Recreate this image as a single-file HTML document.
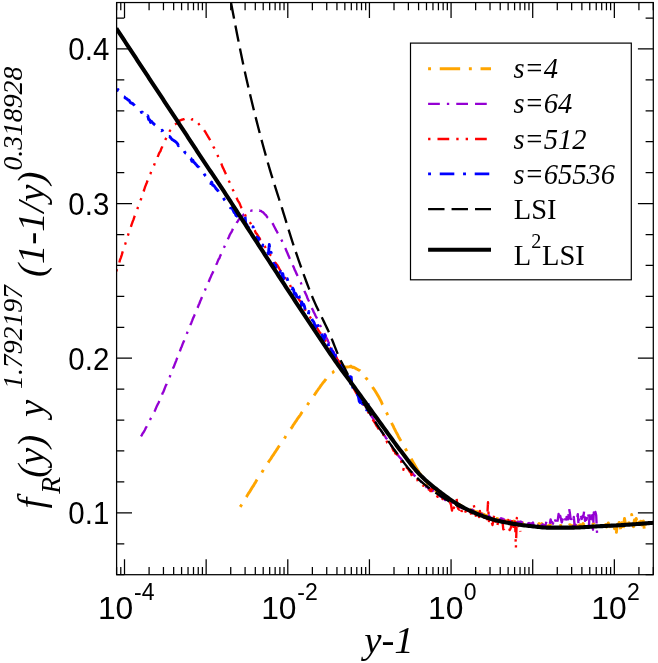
<!DOCTYPE html>
<html><head><meta charset="utf-8"><title>plot</title>
<style>html,body{margin:0;padding:0;background:#fff;}body{width:658px;height:663px;overflow:hidden;font-family:"Liberation Sans",sans-serif;}svg{display:block;will-change:transform;}</style></head>
<body>
<svg width="658" height="663" viewBox="0 0 658 663">
<rect width="658" height="663" fill="#fff"/>
<defs><clipPath id="cp"><rect x="116.6" y="2.55" width="536.7" height="572.15"/></clipPath></defs>
<g clip-path="url(#cp)" fill="none" stroke-linejoin="round">
<path d="M240.2 506.9L241.1 505.48L242 503.92L242.9 502.37L243.8 500.98L244.7 499.44L245.6 498.15L246.5 496.89L247.4 495.17L248.3 493.71L249.2 492.43L250.1 491.08L251 489.51L251.9 487.92L252.8 486.63L253.7 485.31L254.6 483.59L255.5 482.3L256.4 480.67L257.3 479.35L258.2 477.86L259.1 476.69L260 475.13L260.9 473.96L261.8 472.55L262.7 471.1L263.6 469.36L264.5 468.26L265.4 466.95L266.3 465.59L267.2 463.96L268.1 462.74L269 461.29L269.9 459.94L270.8 458.84L271.7 457.19L272.6 455.93L273.5 454.72L274.4 453.13L275.3 451.84L276.2 450.52L277.1 449.15L278 447.61L278.9 446.45L279.8 445.29L280.7 443.51L281.6 442.53L282.5 441.07L283.4 439.62L284.3 438.67L285.2 437.15L286.1 435.52L287 434.38L287.9 433.29L288.8 431.68L289.7 430.48L290.6 429.04L291.5 428.03L292.4 426.62L293.3 424.98L294.2 423.79L295.1 422.38L296 421.15L296.9 419.64L297.8 418.42L298.7 417.16L299.6 416.02L300.5 414.75L301.4 413.08L302.3 411.87L303.2 410.8L304.1 409.13L305 407.96L305.9 406.89L306.8 405.83L307.7 404.49L308.6 403.09L309.5 401.83L310.4 400.59L311.3 399.6L312.2 398.06L313.1 396.81L314 395.62L314.9 394.25L315.8 392.92L316.7 391.46L317.6 390.31L318.5 388.93L319.4 387.87L320.3 386.52L321.2 385.16L322.1 384.05L323 382.72L323.9 381.79L324.8 380.55L325.7 379.6L326.6 378.28L327.5 377.5L328.4 375.68L329.3 375.17L330.2 374.5L331.1 373.53L332 372.93L332.9 372.46L333.8 371.34L334.7 370.77L335.6 370.29L336.5 369.73L337.4 369.06L338.3 368.53L339.2 368.19L340.1 367.76L341 367.22L341.9 367.16L342.8 367.1L343.7 366.89L344.6 367.13L345.5 366.85L346.4 367.1L347.3 366.96L348.2 366.93L349.1 366.82L350 366.88L350.9 366.03L351.8 366.88L352.7 367.42L353.6 367.21L354.5 368L355.4 368.01L356.3 368.82L357.2 369.04L358.1 369.77L359 370.18L359.9 370.54L360.8 371.73L361.7 372.67L362.6 373.47L363.5 374.47L364.4 375.74L365.3 376.83L366.2 378.36L367.1 379.33L368 380.58L368.9 381.67L369.8 382.73L370.7 384.08L371.6 385.75L372.5 386.86L373.4 388.39L374.3 389.64L375.2 390.95L376.1 392.47L377 393.93L377.9 395.55L378.8 397.09L379.7 398.68L380.6 400.35L381.5 402.22L382.4 404.42L383.3 405.93L384.2 407.74L385.1 409.82L386 411.85L386.9 413.27L387.8 415.27L388.7 417.01L389.6 418.66L390.5 420.87L391.4 422.59L392.3 424.45L393.2 425.93L394.1 428.15L395 429.8L395.9 431.59L396.8 433.24L397.7 434.93L398.6 436.99L399.5 438.35L400.4 440.09L401.3 441.63L402.2 443.15L403.1 444.7L404 446.43L404.9 447.84L405.8 449.41L406.7 450.99L407.6 452.73L408.5 454.22L409.4 455.75L410.3 457L411.2 458.61L412.1 460.53L413 462.09L413.9 463.48L414.8 465.14L415.7 466.73L416.6 468.29L417.5 469.85L418.4 471.24L419.3 473.1L420.2 473.81L421.1 475.93L422 477.25L422.9 478.62L423.8 480.58L424.7 481.15L425.6 481.87L426.5 482.85L427.4 484.22L428.3 484.87L429.2 485.89L430.1 486.82L431 486.7L431.9 487.81L432.8 488.81L433.7 489.41L434.6 490L435.5 490.67L436.4 491.14L437.3 491.65L438.2 492.45L439.1 492.63L440 493.4L440.9 494.31L441.8 494.8L442.7 495.57L443.6 495.81L444.5 496.42L445.4 496.92L446.3 497.49L447.2 498.19L448.1 498.58L449 499.39L449.9 499.8L450.8 500.56L451.7 500.13L452.6 501.37L453.5 501.7L454.4 502.17L455.3 502.4L456.2 502.98L457.1 503.59L458 503.88L458.9 504.31L459.8 504.65L460.7 505.26L461.6 505.48L462.5 505.55L463.4 506.18L464.3 506.39L465.2 506.61L466.1 507.42L467 508.1L467.9 508.3L468.8 508.5L469.7 508.91L470.6 509.6L471.5 509.82L472.4 510.17L473.3 510.51L474.2 510.88L475.1 511.58L476 511.65L476.9 511.95L477.8 511.78L478.7 512.67L479.6 512.83L480.5 513.43L481.4 513.42L482.3 513.88L483.2 514.27L484.1 514.39L485 515.17L485.9 515.44L486.8 515.32L487.7 515.95L488.6 516.19L489.5 516.03L490.4 516.74L491.3 516.97L492.2 517.26L493.1 517.35L494 517.73L494.9 517.99L495.8 518.79L496.7 518.54L497.6 518.71L498.5 519.16L499.4 518.89L500.3 519.15L501.2 518.63L502.1 520.52L503 520.4L503.9 520.56L504.8 520.62L505.7 520.51L506.6 520.74L507.5 520.42L508.4 520.86L509.3 521.15L510.2 522.04L511.1 521.71L512 521.55L512.9 521.44L513.8 520.92L514.7 522.82L515.6 522.41L516.5 522.33L517.4 522.25L518.3 522L519.2 522.65L520.1 523.25L521 522.74L521.9 522.94L522.8 523.06L523.7 523.34L524.6 522.6L525.5 523.38L526.4 523.18L527.3 524.15L528.2 523.42L529.1 524.19L530 524.76L530.9 523.94L531.8 523.9L532.7 524.4L533.6 524.41L534.5 524.02L535.4 525.31L536.3 527.75L537.2 524.7L538.1 524.83L539 523.47L539.9 525.29L540.8 524.59L541.7 523.64L542.6 526.01L543.5 524.99L544.4 526.03L545.3 526.3L546.2 525.7L547.1 525.87L548 526.58L548.9 525.5L549.8 525.3L550.7 524.92L551.6 525.62L552.5 526.34L553.4 526.08L554.3 525.13L555.2 525.17L556.1 525.35L557 525.75L557.9 525.5L558.8 525.71L559.7 525.75L560.6 525.45L561.5 525.58L562.4 525.7L563.3 525.56L564.2 525.85L565.1 526.54L566 526.49L566.9 525.63L567.8 524.76L568.7 525.79L569.6 524.63L570.5 524.9L571.4 526.03L572.3 525.95L573.2 525.52L574.1 524.73L575 525.38L575.9 525.2L576.8 525.83L577.7 526.61L578.6 525.77L579.5 525.01L580.4 524.77L581.3 525.28L582.2 525.17L583.1 523.48L584 525.21L584.9 524.52L585.8 525.59L586.7 525.51L587.6 525.46L588.5 524.62L589.4 525.05L590.3 524.67L591.2 524.1L592.1 524.45L593 523.92L593.9 523.79L594.8 524.86L595.7 524.32L596.6 524.48L597.5 524.83L598.4 523.42L599.3 523.85L600.2 526.46L601.1 526.35L602 525.92L602.9 526.58L603.8 526.13L604.7 525.37L605.6 524.54L606.5 527.1L607.4 526.09L608.3 522.96L609.2 526.44L610.1 526.02L611 527.69L611.9 525.06L612.8 525.44L613.7 524.13L614.6 528.84L615.5 525.21L616.4 532.29L617.3 524.37L618.2 525.56L619.1 522.5L620 524.55L620.9 530.38L621.8 522.79L622.7 531.17L623.6 525.65L624.5 518.55L625.4 523.81L626.3 523.81L627.2 524.42L628.1 523.45L629 522.67L629.9 523.82L630.8 521.94L631.7 514.53L632.6 524.24L633.5 526.68L634.4 520.03L635.3 524.18L636.2 518.48L637.1 521.16L638 526.55L638.9 522.31L639.8 528.56L640.7 521.27L641.6 524.97L642.5 521.36L643.4 521L644.3 529.63L645.2 522.88L646.1 525.54" stroke="#ffa500" stroke-width="2.91" stroke-dasharray="2.91 8.74 20.4 8.74"/>
<path d="M141 436.4L141.8 435.11L142.6 433.49L143.4 432.51L144.2 431.24L145 429.79L145.8 427.89L146.6 426.62L147.4 425.08L148.2 423.57L149 422.17L149.8 420.4L150.6 418.77L151.4 417.32L152.2 415.69L153 414.43L153.8 412.65L154.6 411.2L155.4 409.48L156.2 407.61L157 405.76L157.8 404.16L158.6 402.69L159.4 400.87L160.2 398.87L161 397.24L161.8 395.25L162.6 393.2L163.4 391.94L164.2 389.78L165 387.63L165.8 385.55L166.6 384.2L167.4 382.15L168.2 380.32L169 379.02L169.8 376.87L170.6 374.44L171.4 373.05L172.2 370.59L173 368.29L173.8 366.85L174.6 364.63L175.4 362.58L176.2 360.6L177 358.43L177.8 356.87L178.6 355.03L179.4 352.69L180.2 350.33L181 348.04L181.8 346.47L182.6 344.14L183.4 342.27L184.2 340.45L185 338.24L185.8 336.34L186.6 334.3L187.4 332.26L188.2 330.79L189 328.43L189.8 326.77L190.6 324.49L191.4 322.67L192.2 320.65L193 318.37L193.8 316.91L194.6 314.82L195.4 313.18L196.2 311.22L197 308.81L197.8 307.31L198.6 305.12L199.4 303.48L200.2 301.27L201 299.49L201.8 297.51L202.6 295.72L203.4 293.92L204.2 291.95L205 290.21L205.8 288.2L206.6 286.38L207.4 284.39L208.2 282.69L209 281.13L209.8 278.98L210.6 277.3L211.4 275.33L212.2 273.77L213 272.13L213.8 270.24L214.6 268.33L215.4 266.73L216.2 264.76L217 263.16L217.8 261.11L218.6 259.32L219.4 258.28L220.2 255.98L221 254.39L221.8 252.45L222.6 250.96L223.4 248.65L224.2 247.13L225 245.48L225.8 244.05L226.6 242.1L227.4 239.98L228.2 238.41L229 236.76L229.8 234.73L230.6 233.36L231.4 232.13L232.2 230.51L233 228.58L233.8 227.08L234.6 225.98L235.4 224.58L236.2 223.94L237 222.16L237.8 221.17L238.6 219.87L239.4 218.76L240.2 217.97L241 217.26L241.8 216.66L242.6 216.13L243.4 214.75L244.2 214.27L245 213.95L245.8 213.02L246.6 212.37L247.4 212.18L248.2 211.69L249 211.23L249.8 210.87L250.6 210.87L251.4 210.67L252.2 210.53L253 210.54L253.8 210.18L254.6 210.35L255.4 210.41L256.2 210.47L257 210.67L257.8 210.42L258.6 210.63L259.4 210.43L260.2 210.92L261 210.92L261.8 211.72L262.6 212.02L263.4 212.69L264.2 213.51L265 214.49L265.8 214.93L266.6 216.23L267.4 217.36L268.2 218.01L269 218.69L269.8 220.09L270.6 220.73L271.4 222.03L272.2 222.76L273 224.09L273.8 225.68L274.6 227.19L275.4 228.77L276.2 230.38L277 231.71L277.8 233.29L278.6 234.58L279.4 235.85L280.2 237.6L281 239.08L281.8 240.62L282.6 242.33L283.4 244.33L284.2 245.71L285 247.58L285.8 249.28L286.6 251.36L287.4 253.06L288.2 254.94L289 256.72L289.8 258.9L290.6 260.31L291.4 262.23L292.2 263.9L293 265.82L293.8 267.4L294.6 269.74L295.4 271.04L296.2 273.08L297 274.58L297.8 276.5L298.6 278.31L299.4 280.21L300.2 281.59L301 282.99L301.8 285.83L302.6 287.09L303.4 288.87L304.2 290.49L305 292.35L305.8 293.92L306.6 295.7L307.4 298L308.2 299.74L309 301.22L309.8 303.15L310.6 304.9L311.4 306.59L312.2 308.82L313 310.25L313.8 312.42L314.6 313.6L315.4 315.51L316.2 316.97L317 318.36L317.8 320.63L318.6 321.76L319.4 323.74L320.2 325.49L321 326.8L321.8 328.57L322.6 329.9L323.4 331.56L324.2 333.51L325 334.56L325.8 336.36L326.6 338.11L327.4 339.5L328.2 341.44L329 342.97L329.8 344.84L330.6 345.97L331.4 347.74L332.2 349.28L333 351.1L333.8 352.45L334.6 353.96L335.4 355.71L336.2 356.98L337 359.23L337.8 360.72L338.6 361.09L339.4 362.84L340.2 364.5L341 366.23L341.8 367.06L342.6 368.24L343.4 368.98L344.2 370.62L345 372.15L345.8 373.68L346.6 374.97L347.4 376.18L348.2 377.63L349 379.15L349.8 380.2L350.6 381.69L351.4 383.44L352.2 384.79L353 385.97L353.8 387.33L354.6 388.5L355.4 390.38L356.2 390.96L357 392.84L357.8 394.16L358.6 395.33L359.4 396.75L360.2 398.06L361 399.01L361.8 400.55L362.6 401.81L363.4 403.36L364.2 404.17L365 405.75L365.8 406.88L366.6 408.35L367.4 409.46L368.2 410.81L369 411.81L369.8 413.43L370.6 414.62L371.4 416.14L372.2 417.19L373 418.4L373.8 419.94L374.6 421.54L375.4 422.42L376.2 423.49L377 425.1L377.8 426.14L378.6 426.98L379.4 428.39L380.2 429.57L381 430.62L381.8 431.92L382.6 433.08L383.4 434.67L384.2 435.35L385 436.1L385.8 437.87L386.6 438.67L387.4 440.01L388.2 441.54L389 442.68L389.8 443.77L390.6 444.98L391.4 445.81L392.2 447.17L393 448.34L393.8 449.24L394.6 450.24L395.4 451.78L396.2 452.66L397 454.07L397.8 454.83L398.6 456.03L399.4 456.98L400.2 457.96L401 458.62L401.8 460.12L402.6 461.1L403.4 462.19L404.2 463.26L405 464.68L405.8 465.45L406.6 466.35L407.4 467.25L408.2 468.39L409 469.58L409.8 470.6L410.6 471.47L411.4 472.23L412.2 472.9L413 473.69L413.8 475.03L414.6 475.63L415.4 476.57L416.2 477.29L417 478.23L417.8 478.81L418.6 479.9L419.4 480.35L420.2 481.16L421 481.74L421.8 482.39L422.6 484.28L423.4 484.41L424.2 483.75L425 484.77L425.8 487.13L426.6 486.07L427.4 486.95L428.2 488.49L429 488.66L429.8 488.37L430.6 489.45L431.4 489.84L432.2 490.94L433 490.56L433.8 492L434.6 491.68L435.4 493.17L436.2 493.75L437 493.9L437.8 495.04L438.6 495.51L439.4 495.68L440.2 496.5L441 496.2L441.8 497.32L442.6 498.33L443.4 497.41L444.2 498.25L445 500L445.8 499.97L446.6 499.72L447.4 500.61L448.2 501.87L449 501.45L449.8 502.93L450.6 502.14L451.4 501.75L452.2 504.04L453 503.53L453.8 504.62L454.6 504.06L455.4 504.78L456.2 505.97L457 505.78L457.8 507.2L458.6 505.57L459.4 506.38L460.2 507.47L461 505.78L461.8 507.55L462.6 508L463.4 508.02L464.2 509.49L465 511L465.8 509.01L466.6 510.09L467.4 510.05L468.2 510.56L469 510.46L469.8 511.69L470.6 510.45L471.4 510.56L472.2 509.63L473 510.12L473.8 511.38L474.6 511.96L475.4 512.09L476.2 513.27L477 512.95L477.8 511.99L478.6 513.95L479.4 514.29L480.2 514.11L481 514.12L481.8 513.8L482.6 514.7L483.4 515.75L484.2 515.27L485 516.28L485.8 516.61L486.6 516.76L487.4 516.57L488.2 517.99L489 515.28L489.8 517.55L490.6 517.37L491.4 518.44L492.2 519.81L493 518.95L493.8 518.98L494.6 518.77L495.4 518.84L496.2 519.71L497 519.66L497.8 520.64L498.6 519.32L499.4 520.02L500.2 519.1L501 518.2L501.8 520.43L502.6 518.61L503.4 520.88L504.2 519.47L505 520.42L505.8 520.42L506.6 521.37L507.4 520.01L508.2 520.45L509 520.48L509.8 520.83L510.6 520.77L511.4 521.62L512.2 519.85L513 520.11L513.8 521.99L514.6 521.37L515.4 523.8L516.2 522.61L517 522.57L517.8 521.66L518.6 523.44L519.4 522.53L520.2 521.52L521 521.73L521.8 522.35L522.6 522.48L523.4 522.94L524.2 524.13L525 524.26L525.8 522.98L526.6 523.73L527.4 524.64L528.2 523.38L529 522.99L529.8 523.89L530.6 523.59L531.4 523.42L532.2 524.42L533 522.52L533.8 525.8L534.6 522.82L535.4 523.46L536.2 523.28L537 523.73L537.8 525.87L538.6 524.03L539.4 525.29L540.2 526.91L541 524.05L541.8 525.85L542.6 524.22L543.4 525.94L544.2 525.43L545 525.87L545.8 523.88L546.6 521.15L547.4 523.3L548.2 522.14L549 523.3L549.8 524.06L550.6 519.36L551.4 522.27L552.2 522.07L553 523.72L553.8 519.68L554.6 522.78L555.4 520.06L556.2 517.94L557 522.54L557.8 519.81L558.6 514.03L559.4 520.77L560.2 515.81L561 519.23L561.8 522.41L562.6 519.48L563.4 517.6L564.2 519.58L565 516.97L565.8 524L566.6 516.95L567.4 517.87L568.2 519.3L569 508.08L569.8 512.46L570.6 518.89L571.4 519.05L572.2 520.37L573 527.19L573.8 517.02L574.6 525.01L575.4 525.38L576.2 520.48L577 518.41L577.8 514.16L578.6 525.4L579.4 517.36L580.2 520.24L581 517.05L581.8 518.99L582.6 516.04L583.4 516.75L584.2 510.46L585 520.9L585.8 518.18L586.6 519.67L587.4 515.05L588.2 512.26L589 524.82L589.8 511.71L590.6 518.75L591.4 517.59L592.2 515.2L593 529.81L593.8 512.55L594.6 516.56L595.4 512.02L596.2 515.25L597 532.35L597.8 537.31" stroke="#9400d3" stroke-width="2.35" stroke-dasharray="11.73 7.04 2.35 7.04 11.73 7.04"/>
<path d="M116.3 271.39L117.2 268.41L118.1 265.88L119 263.78L119.9 260.18L120.8 257.81L121.7 255.12L122.6 251.89L123.5 249.43L124.4 246.45L125.3 243.91L126.2 241.16L127.1 238.05L128 235.3L128.9 232.65L129.8 229.78L130.7 227.4L131.6 224.6L132.5 222.04L133.4 219.88L134.3 217.04L135.2 214.53L136.1 212.32L137 210.37L137.9 207.43L138.8 205.13L139.7 202.37L140.6 200.32L141.5 197.77L142.4 194.59L143.3 192.32L144.2 189.74L145.1 186.88L146 184.56L146.9 182.44L147.8 179.9L148.7 176.3L149.6 175.03L150.5 173.59L151.4 170.93L152.3 169.42L153.2 167.19L154.1 165.39L155 162.42L155.9 161.32L156.8 160.27L157.7 156.84L158.6 154.57L159.5 152.48L160.4 151.38L161.3 148.72L162.2 146.78L163.1 144.4L164 142.2L164.9 140.59L165.8 138.87L166.7 137.1L167.6 136.69L168.5 133.81L169.4 131.58L170.3 130.37L171.2 129.5L172.1 127.86L173 126.74L173.9 125.83L174.8 124.48L175.7 124.02L176.6 123.55L177.5 122.39L178.4 122.07L179.3 120.5L180.2 120.57L181.1 119.97L182 119.77L182.9 119.34L183.8 119.24L184.7 118.82L185.6 118.2L186.5 118.45L187.4 118.34L188.3 118.5L189.2 118.43L190.1 118.29L191 118.87L191.9 119.55L192.8 119.2L193.7 119.21L194.6 120.86L195.5 121.71L196.4 121.52L197.3 122.06L198.2 123.18L199.1 124.39L200 125.63L200.9 125.79L201.8 126.99L202.7 128.44L203.6 129.53L204.5 130.77L205.4 132.03L206.3 133.68L207.2 135.21L208.1 136.78L209 138.08L209.9 139.7L210.8 141.18L211.7 142.82L212.6 144.63L213.5 146.99L214.4 148.35L215.3 150.18L216.2 152.09L217.1 153.63L218 156.38L218.9 158.17L219.8 160.18L220.7 162.11L221.6 164.28L222.5 166.91L223.4 168.58L224.3 170.61L225.2 172.43L226.1 174.83L227 176.57L227.9 178.22L228.8 180.7L229.7 182.53L230.6 184.55L231.5 186.67L232.4 188.98L233.3 190.56L234.2 192.51L235.1 194.55L236 196.91L236.9 198.46L237.8 200.65L238.7 201.95L239.6 203.35L240.5 205.66L241.4 207.8L242.3 209.64L243.2 211.46L244.1 212.93L245 214.39L245.9 216.96L246.8 218.42L247.7 218.99L248.6 220.69L249.5 221.66L250.4 223.04L251.3 224.89L252.2 226.39L253.1 227.59L254 229.04L254.9 230.54L255.8 233.01L256.7 233.74L257.6 235.17L258.5 236.59L259.4 237.82L260.3 239.82L261.2 241.11L262.1 242.49L263 243.46L263.9 245.32L264.8 246.33L265.7 248.09L266.6 249.3L267.5 250.66L268.4 252.11L269.3 253.36L270.2 254.71L271.1 255.78L272 257.52L272.9 258.84L273.8 260.12L274.7 262.39L275.6 262.91L276.5 264.15L277.4 265.31L278.3 266.86L279.2 268.52L280.1 270.26L281 271.52L281.9 272.37L282.8 274.27L283.7 275.33L284.6 277.28L285.5 278.39L286.4 279.88L287.3 281.45L288.2 282.67L289.1 283.97L290 284.95L290.9 287.22L291.8 288.42L292.7 289.56L293.6 291.09L294.5 292.86L295.4 293.4L296.3 295.51L297.2 296.97L298.1 297.97L299 299.57L299.9 300.89L300.8 301.93L301.7 303.58L302.6 305.16L303.5 306.85L304.4 307.9L305.3 310.09L306.2 311.3L307.1 312.05L308 313.7L308.9 315.16L309.8 316.29L310.7 318.15L311.6 319.49L312.5 320.86L313.4 322.43L314.3 324.8L315.2 324.95L316.1 327.13L317 327.81L317.9 329.49L318.8 330.84L319.7 332.37L320.6 333.28L321.5 334.64L322.4 336.42L323.3 338.16L324.2 338.84L325.1 340.32L326 341.6L326.9 343.28L327.8 344.63L328.7 345.91L329.6 347.6L330.5 348.18L331.4 349.85L332.3 351.25L333.2 352.91L334.1 354.09L335 355.79L335.9 356.61L336.8 358.25L337.7 359.74L338.6 360.99L339.5 362.1L340.4 364L341.3 365.55L342.2 366.77L343.1 368.49L344 370L344.9 371.58L345.8 373.12L346.7 374.72L347.6 375.78L348.5 378.32L349.4 380.32L350.3 381.43L351.2 382.61L352.1 386.02L353 387.66L353.9 388.87L354.8 390.55L355.7 392.16L356.6 393.68L357.5 394.6L358.4 396.17L359.3 397.86L360.2 399.68L361.1 400.65L362 402.62L362.9 403.88L363.8 405.23L364.7 406.94L365.6 407.98L366.5 409.93L367.4 410.91L368.3 412.33L369.2 414.16L370.1 415.36L371 417.14L371.9 418.5L372.8 419.71L373.7 421.22L374.6 422.35L375.5 423.94L376.4 425.64L377.3 426.71L378.2 428.37L379.1 429.75L380 431.44L380.9 430.92L381.8 432.95L382.7 434.02L383.6 435.13L384.5 434.6L385.4 439.78L386.3 439.82L387.2 442.7L388.1 443.06L389 443.99L389.9 445.87L390.8 446.29L391.7 445.95L392.6 448.74L393.5 450.73L394.4 450.31L395.3 453.55L396.2 454.05L397.1 454.36L398 457.75L398.9 458.11L399.8 459.46L400.7 459.38L401.6 462.86L402.5 463.34L403.4 469.82L404.3 465.03L405.2 464.36L406.1 466.67L407 468.14L407.9 468.35L408.8 470.16L409.7 471.59L410.6 472.39L411.5 475.08L412.4 474.51L413.3 476.25L414.2 477.01L415.1 478.09L416 478.2L416.9 477.81L417.8 481.51L418.7 481.3L419.6 481.78L420.5 483.35L421.4 483.35L422.3 484.72L423.2 485.85L424.1 485.26L425 487.23L425.9 487.24L426.8 488L427.7 487.51L428.6 489.55L429.5 489.41L430.4 491.09L431.3 491.1L432.2 486.72L433.1 492.54L434 493L434.9 493.69L435.8 494.55L436.7 495.23L437.6 496.81L438.5 495.2L439.4 497.25L440.3 496.76L441.2 498.89L442.1 498.78L443 499.21L443.9 499.69L444.8 500.46L445.7 500.13L446.6 502.03L447.5 502.36L448.4 502.43L449.3 501.6L450.2 502.61L451.1 505.23L452 510.68L452.9 504.76L453.8 508L454.7 505.45L455.6 508.07L456.5 497.33L457.4 505.96L458.3 508.9L459.2 509.7L460.1 506.33L461 510.55L461.9 511.09L462.8 509.51L463.7 511.96L464.6 513.93L465.5 511.58L466.4 510.08L467.3 512.81L468.2 512.16L469.1 513.1L470 509.83L470.9 513.68L471.8 512.6L472.7 513.16L473.6 504.15L474.5 508.7L475.4 514.4L476.3 517.64L477.2 516.1L478.1 514.43L479 517.05L479.9 510.86L480.8 518.04L481.7 519.03L482.6 516.07L483.5 516.45L484.4 517.86L485.3 514.32L486.2 516.81L487.1 519.28L488 502.22L488.9 521.08L489.8 517.74L490.7 517.94L491.6 521.73L492.5 525.04L493.4 519.26L494.3 514.66L495.2 519.99L496.1 524.8L497 527.32L497.9 522.73L498.8 520.87L499.7 519.87L500.6 521.99L501.5 522.56L502.4 520.67L503.3 529.31L504.2 528.97L505.1 520.98L506 517.21L506.9 520.65L507.8 519.86L508.7 520.36L509.6 530.08L510.5 528.56L511.4 525.63L512.3 519.35L513.2 523.96L514.1 531.34L515 519.53L515.9 548.09L516.8 517.95L517.7 520.22L518.6 526L519.5 524.03L520.4 531.68" stroke="#ff0000" stroke-width="2.35" stroke-dasharray="2.35 7.04 11.73 7.04 2.35 7.04"/>
<path d="M116.3 90.28L117.2 90.49L118.1 89.58L119 91.46L119.9 92.86L120.8 93.47L121.7 94.96L122.6 95.63L123.5 96.75L124.4 96.95L125.3 97.97L126.2 98.45L127.1 99.02L128 99.97L128.9 100.1L129.8 101.54L130.7 102.77L131.6 103.34L132.5 103.33L133.4 104.43L134.3 105.2L135.2 106.33L136.1 107L137 108.26L137.9 108.79L138.8 109.02L139.7 110.21L140.6 110.34L141.5 112.42L142.4 112.28L143.3 114.92L144.2 114.21L145.1 116.08L146 116.61L146.9 116.81L147.8 115.78L148.7 119.6L149.6 119.59L150.5 122.41L151.4 121.32L152.3 122.35L153.2 123.41L154.1 124.16L155 125.05L155.9 125.7L156.8 126.41L157.7 127.04L158.6 129.02L159.5 128.96L160.4 130.22L161.3 130.76L162.2 130.21L163.1 131.97L164 131.61L164.9 132.74L165.8 134.52L166.7 134.45L167.6 134.84L168.5 136.36L169.4 136.39L170.3 137.28L171.2 138.41L172.1 139.46L173 139.96L173.9 140.72L174.8 141.09L175.7 141.88L176.6 142.65L177.5 143.65L178.4 145.76L179.3 144.97L180.2 146.16L181.1 148.01L182 149.21L182.9 149.36L183.8 150.36L184.7 152.12L185.6 153.17L186.5 153.63L187.4 154.99L188.3 155.6L189.2 159.06L190.1 158.09L191 158.51L191.9 161.23L192.8 160.21L193.7 162.2L194.6 162.7L195.5 163.94L196.4 164.8L197.3 166.11L198.2 166.65L199.1 167.56L200 169.91L200.9 170.58L201.8 172.59L202.7 172.62L203.6 172.61L204.5 174.45L205.4 175.82L206.3 176.72L207.2 178.36L208.1 178.58L209 179.89L209.9 181.58L210.8 183.56L211.7 182.12L212.6 185.21L213.5 185.27L214.4 186.23L215.3 187.51L216.2 188.87L217.1 189.77L218 190.79L218.9 192.67L219.8 192.54L220.7 194.5L221.6 195.88L222.5 197.09L223.4 197.52L224.3 199.63L225.2 200.72L226.1 202.17L227 202.33L227.9 203.75L228.8 205.1L229.7 206.38L230.6 207.92L231.5 208.01L232.4 208.38L233.3 210.68L234.2 212.48L235.1 213.13L236 215.56L236.9 214.88L237.8 217.49L238.7 214.96L239.6 216.71L240.5 219.22L241.4 217.91L242.3 219.93L243.2 221.86L244.1 220.66L245 216.09L245.9 225.06L246.8 224.47L247.7 227.66L248.6 227.48L249.5 228.54L250.4 229.58L251.3 230.44L252.2 231.88L253.1 226.68L254 232.3L254.9 234.63L255.8 236.49L256.7 237.13L257.6 243.11L258.5 237.9L259.4 241.46L260.3 241.34L261.2 242.66L262.1 247.11L263 244.98L263.9 245.36L264.8 248.13L265.7 250.47L266.6 251.38L267.5 250.84L268.4 253.86L269.3 244.54L270.2 254.89L271.1 252.27L272 258.1L272.9 261.58L273.8 263.97L274.7 269.2L275.6 265.27L276.5 269.32L277.4 266.82L278.3 270.06L279.2 270.52L280.1 270.85L281 281.4L281.9 274.91L282.8 273.64L283.7 278.71L284.6 275.34L285.5 280.63L286.4 278.93L287.3 278.73L288.2 282.44L289.1 282.92L290 286.51L290.9 287.99L291.8 288.85L292.7 288.13L293.6 289.99L294.5 294.27L295.4 293.34L296.3 294.77L297.2 299.81L298.1 294.42L299 296.02L299.9 300.4L300.8 307.17L301.7 301.96L302.6 304.56L303.5 304.24L304.4 306.07L305.3 310.57L306.2 311.49L307.1 312.89L308 315.95L308.9 311.54L309.8 317.68L310.7 318.63L311.6 318.46L312.5 320.37L313.4 321.4L314.3 323.14L315.2 328.5L316.1 326.42L317 320.1L317.9 325.64L318.8 330.53L319.7 333.28L320.6 332.99L321.5 333.22L322.4 337.3L323.3 340.64L324.2 338.81L325.1 335.05L326 339.4L326.9 342.16L327.8 341.58L328.7 347.06L329.6 346.32L330.5 343.8L331.4 349.73L332.3 351.97L333.2 352.42L334.1 356.05L335 357.67L335.9 352.51L336.8 362.61L337.7 364.59L338.6 362.58L339.5 361.54L340.4 363.51L341.3 364.86L342.2 367.68L343.1 367.22L344 369.43L344.9 372.08L345.8 374.27L346.7 375.32L347.6 377.33L348.5 372.8L349.4 375.13L350.3 385.71L351.2 376.92L352.1 390.51L353 386.46L353.9 386.9L354.8 388.93L355.7 390.03L356.6 389.56L357.5 394.76L358.4 396.48L359.3 401.47L360.2 402.64L361.1 399.4L362 407.32L362.9 403.29L363.8 405.31L364.7 405.64L365.6 408.77L366.5 411.57L367.4 408.06L368.3 403.18" stroke="#0000ff" stroke-width="2.91" stroke-dasharray="2.91 8.74 14.57 8.74"/>
<path d="M231 2.47L232.5 10.42L234 18.29L235.5 26.07L237 33.76L238.5 41.32L240 48.76L241.5 56.05L243 63.18L244.5 70.14L246 76.91L247.5 83.49L249 89.95L250.5 96.3L252 102.54L253.5 108.68L255 114.72L256.5 120.65L258 126.5L259.5 132.25L261 137.91L262.5 143.49L264 148.98L265.5 154.4L267 159.73L268.5 165L270 170.14L271.5 175.11L273 179.96L274.5 184.71L276 189.4L277.5 194.07L279 198.74L280.5 203.44L282 208.22L283.5 213.06L285 217.94L286.5 222.83L288 227.71L289.5 232.55L291 237.34L292.5 242.03L294 246.62L295.5 251.08L297 255.47L298.5 259.82L300 264.13L301.5 268.38L303 272.58L304.5 276.7L306 280.76L307.5 284.74L309 288.62L310.5 292.42L312 296.11L313.5 299.69L315 303.12L316.5 306.41L318 309.61L319.5 312.72L321 315.79L322.5 318.84L324 321.89L325.5 324.98L327 328.12L328.5 331.36L330 334.71L331.5 338.24L333 341.98L334.5 345.82L336 349.67L337.5 353.41L339 356.94L340.5 360.16L342 363.08L343.5 365.87L345 368.71L346.5 371.73L348 374.85L349.5 378.03L351 381.29L352.5 384.25L354 386.59L355.5 389.03L357 391.55L358.5 394.16L360 396.84L361.5 399.59L363 402.14L364.5 404.56L366 406.97L367.5 409.4L369 411.84L370.5 414.27L372 416.69L373.5 419.09L375 421.45L376.5 423.78L378 426.07L379.5 428.3L381 430.48L382.5 432.66L384 434.85L385.5 437.03L387 439.22L388.5 441.39L390 443.56L391.5 445.71L393 447.84L394.5 449.96L396 452.04L397.5 454.1L399 456.13L400.5 458.12L402 460.12L403.5 462.12L405 464.1L406.5 466.03L408 467.89L409.5 469.7L411 471.44L412.5 473.12L414 474.73L415.5 476.29L417 477.77L418.5 479.19L420 480.55L421.5 481.86L423 483.15L424.5 484.41L426 485.63L427.5 486.82L429 487.97L430.5 489.1L432 490.2L433.5 491.27L435 492.31L436.5 493.34L438 494.34L439.5 495.33L441 496.3L442.5 497.26L444 498.2L445.5 499.13L447 500.04L448.5 500.94L450 501.81L451.5 502.65L453 503.45L454.5 504.22L456 504.95L457.5 505.66L459 506.34L460.5 507L462 507.66L463.5 508.33L465 509.01L466.5 509.68L468 510.33L469.5 510.97L471 511.59L472.5 512.2L474 512.79L475.5 513.38L477 513.95L478.5 514.52L480 515.08L481.5 515.64L483 516.19L484.5 516.73L486 517.26L487.5 517.77L489 518.26L490.5 518.73L492 519.19L493.5 519.63L495 520.04L496.5 520.44" stroke="#000" stroke-width="2.35" stroke-dasharray="16.42 7.04"/>
<path d="M116.3 28.3L117.8 30.58L119.3 32.86L120.8 35.15L122.3 37.43L123.8 39.71L125.3 42L126.8 44.28L128.3 46.56L129.8 48.85L131.3 51.13L132.8 53.41L134.3 55.7L135.8 57.98L137.3 60.26L138.8 62.54L140.3 64.83L141.8 67.11L143.3 69.39L144.8 71.67L146.3 73.95L147.8 76.23L149.3 78.51L150.8 80.79L152.3 83.06L153.8 85.34L155.3 87.62L156.8 89.89L158.3 92.17L159.8 94.44L161.3 96.72L162.8 98.99L164.3 101.27L165.8 103.54L167.3 105.82L168.8 108.09L170.3 110.37L171.8 112.64L173.3 114.92L174.8 117.2L176.3 119.47L177.8 121.75L179.3 124.03L180.8 126.32L182.3 128.61L183.8 130.9L185.3 133.19L186.8 135.48L188.3 137.78L189.8 140.07L191.3 142.37L192.8 144.66L194.3 146.95L195.8 149.23L197.3 151.52L198.8 153.8L200.3 156.07L201.8 158.34L203.3 160.6L204.8 162.85L206.3 165.1L207.8 167.33L209.3 169.55L210.8 171.75L212.3 173.94L213.8 176.15L215.3 178.36L216.8 180.6L218.3 182.86L219.8 185.12L221.3 187.4L222.8 189.68L224.3 191.97L225.8 194.26L227.3 196.56L228.8 198.87L230.3 201.18L231.8 203.5L233.3 205.82L234.8 208.14L236.3 210.47L237.8 212.8L239.3 215.13L240.8 217.46L242.3 219.79L243.8 222.12L245.3 224.45L246.8 226.78L248.3 229.1L249.8 231.42L251.3 233.74L252.8 236.06L254.3 238.37L255.8 240.68L257.3 242.98L258.8 245.29L260.3 247.6L261.8 249.91L263.3 252.22L264.8 254.52L266.3 256.83L267.8 259.14L269.3 261.45L270.8 263.76L272.3 266.06L273.8 268.37L275.3 270.68L276.8 272.98L278.3 275.28L279.8 277.59L281.3 279.89L282.8 282.19L284.3 284.48L285.8 286.78L287.3 289.07L288.8 291.36L290.3 293.65L291.8 295.93L293.3 298.22L294.8 300.5L296.3 302.77L297.8 305.05L299.3 307.31L300.8 309.58L302.3 311.84L303.8 314.1L305.3 316.35L306.8 318.6L308.3 320.85L309.8 323.1L311.3 325.36L312.8 327.62L314.3 329.88L315.8 332.14L317.3 334.4L318.8 336.66L320.3 338.92L321.8 341.17L323.3 343.42L324.8 345.66L326.3 347.89L327.8 350.12L329.3 352.33L330.8 354.53L332.3 356.71L333.8 358.89L335.3 361.04L336.8 363.18L338.3 365.3L339.8 367.39L341.3 369.46L342.8 371.5L344.3 373.52L345.8 375.54L347.3 377.56L348.8 379.59L350.3 381.64L351.8 383.69L353.3 385.75L354.8 387.81L356.3 389.87L357.8 391.94L359.3 394L360.8 396.07L362.3 398.14L363.8 400.21L365.3 402.27L366.8 404.34L368.3 406.41L369.8 408.48L371.3 410.55L372.8 412.62L374.3 414.69L375.8 416.75L377.3 418.82L378.8 420.88L380.3 422.94L381.8 425L383.3 427.08L384.8 429.16L386.3 431.24L387.8 433.33L389.3 435.41L390.8 437.48L392.3 439.55L393.8 441.6L395.3 443.64L396.8 445.66L398.3 447.66L399.8 449.64L401.3 451.61L402.8 453.59L404.3 455.58L405.8 457.58L407.3 459.56L408.8 461.53L410.3 463.47L411.8 465.38L413.3 467.24L414.8 469.05L416.3 470.8L417.8 472.48L419.3 474.09L420.8 475.61L422.3 477.08L423.8 478.51L425.3 479.9L426.8 481.25L428.3 482.57L429.8 483.86L431.3 485.11L432.8 486.34L434.3 487.55L435.8 488.73L437.3 489.91L438.8 491.06L440.3 492.21L441.8 493.35L443.3 494.47L444.8 495.59L446.3 496.68L447.8 497.76L449.3 498.82L450.8 499.86L452.3 500.87L453.8 501.85L455.3 502.81L456.8 503.73L458.3 504.63L459.8 505.48L461.3 506.32L462.8 507.14L464.3 507.94L465.8 508.72L467.3 509.49L468.8 510.23L470.3 510.95L471.8 511.66L473.3 512.33L474.8 512.99L476.3 513.62L477.8 514.23L479.3 514.81L480.8 515.38L482.3 515.94L483.8 516.48L485.3 517.01L486.8 517.53L488.3 518.03L489.8 518.51L491.3 518.98L492.8 519.43L494.3 519.85L495.8 520.26L497.3 520.64L498.8 521L500.3 521.34L501.8 521.67L503.3 521.98L504.8 522.28L506.3 522.57L507.8 522.85L509.3 523.12L510.8 523.38L512.3 523.63L513.8 523.87L515.3 524.11L516.8 524.34L518.3 524.56L519.8 524.77L521.3 524.97L522.8 525.17L524.3 525.36L525.8 525.54L527.3 525.71L528.8 525.87L530.3 526.03L531.8 526.2L533.3 526.37L534.8 526.55L536.3 526.73L537.8 526.9L539.3 527.07L540.8 527.22L542.3 527.35L543.8 527.46L545.3 527.54L546.8 527.59L548.3 527.6L549.8 527.6L551.3 527.6L552.8 527.6L554.3 527.6L555.8 527.6L557.3 527.6L558.8 527.6L560.3 527.6L561.8 527.6L563.3 527.6L564.8 527.6L566.3 527.6L567.8 527.6L569.3 527.6L570.8 527.6L572.3 527.6L573.8 527.59L575.3 527.56L576.8 527.51L578.3 527.46L579.8 527.39L581.3 527.31L582.8 527.22L584.3 527.13L585.8 527.03L587.3 526.94L588.8 526.84L590.3 526.74L591.8 526.64L593.3 526.55L594.8 526.46L596.3 526.39L597.8 526.31L599.3 526.24L600.8 526.17L602.3 526.09L603.8 526.02L605.3 525.95L606.8 525.88L608.3 525.81L609.8 525.74L611.3 525.66L612.8 525.59L614.3 525.51L615.8 525.43L617.3 525.35L618.8 525.27L620.3 525.18L621.8 525.09L623.3 525L624.8 524.9L626.3 524.81L627.8 524.71L629.3 524.6L630.8 524.5L632.3 524.39L633.8 524.28L635.3 524.17L636.8 524.06L638.3 523.95L639.8 523.84L641.3 523.73L642.8 523.61L644.3 523.5L645.8 523.39L647.3 523.27L648.8 523.16L650.3 523.05L651.8 522.94L653.3 522.83" stroke="#000" stroke-width="4.1"/>
</g>
<g fill="none" stroke="#000" stroke-width="1.25">
<rect x="116.6" y="2.55" width="536.7" height="572.15"/>
<path d="M116.6 2.55 v7.7M116.6 574.7 v-7.7M120.78 2.55 v7.7M120.78 574.7 v-7.7M124.51 2.55 v15.4M124.51 574.7 v-15.4M149.09 2.55 v7.7M149.09 574.7 v-7.7M163.46 2.55 v7.7M163.46 574.7 v-7.7M173.66 2.55 v7.7M173.66 574.7 v-7.7M181.58 2.55 v7.7M181.58 574.7 v-7.7M188.04 2.55 v7.7M188.04 574.7 v-7.7M193.5 2.55 v7.7M193.5 574.7 v-7.7M198.24 2.55 v7.7M198.24 574.7 v-7.7M202.42 2.55 v7.7M202.42 574.7 v-7.7M206.15 2.55 v15.4M206.15 574.7 v-15.4M230.73 2.55 v7.7M230.73 574.7 v-7.7M245.1 2.55 v7.7M245.1 574.7 v-7.7M255.3 2.55 v7.7M255.3 574.7 v-7.7M263.21 2.55 v7.7M263.21 574.7 v-7.7M269.68 2.55 v7.7M269.68 574.7 v-7.7M275.14 2.55 v7.7M275.14 574.7 v-7.7M279.88 2.55 v7.7M279.88 574.7 v-7.7M284.05 2.55 v7.7M284.05 574.7 v-7.7M287.79 2.55 v15.4M287.79 574.7 v-15.4M312.37 2.55 v7.7M312.37 574.7 v-7.7M326.74 2.55 v7.7M326.74 574.7 v-7.7M336.94 2.55 v7.7M336.94 574.7 v-7.7M344.85 2.55 v7.7M344.85 574.7 v-7.7M351.32 2.55 v7.7M351.32 574.7 v-7.7M356.78 2.55 v7.7M356.78 574.7 v-7.7M361.52 2.55 v7.7M361.52 574.7 v-7.7M365.69 2.55 v7.7M365.69 574.7 v-7.7M369.43 2.55 v15.4M369.43 574.7 v-15.4M394.01 2.55 v7.7M394.01 574.7 v-7.7M408.38 2.55 v7.7M408.38 574.7 v-7.7M418.58 2.55 v7.7M418.58 574.7 v-7.7M426.49 2.55 v7.7M426.49 574.7 v-7.7M432.96 2.55 v7.7M432.96 574.7 v-7.7M438.42 2.55 v7.7M438.42 574.7 v-7.7M443.16 2.55 v7.7M443.16 574.7 v-7.7M447.33 2.55 v7.7M447.33 574.7 v-7.7M451.07 2.55 v15.4M451.07 574.7 v-15.4M475.65 2.55 v7.7M475.65 574.7 v-7.7M490.02 2.55 v7.7M490.02 574.7 v-7.7M500.22 2.55 v7.7M500.22 574.7 v-7.7M508.13 2.55 v7.7M508.13 574.7 v-7.7M514.6 2.55 v7.7M514.6 574.7 v-7.7M520.06 2.55 v7.7M520.06 574.7 v-7.7M524.8 2.55 v7.7M524.8 574.7 v-7.7M528.97 2.55 v7.7M528.97 574.7 v-7.7M532.71 2.55 v15.4M532.71 574.7 v-15.4M557.28 2.55 v7.7M557.28 574.7 v-7.7M571.66 2.55 v7.7M571.66 574.7 v-7.7M581.86 2.55 v7.7M581.86 574.7 v-7.7M589.77 2.55 v7.7M589.77 574.7 v-7.7M596.24 2.55 v7.7M596.24 574.7 v-7.7M601.7 2.55 v7.7M601.7 574.7 v-7.7M606.44 2.55 v7.7M606.44 574.7 v-7.7M610.61 2.55 v7.7M610.61 574.7 v-7.7M614.35 2.55 v15.4M614.35 574.7 v-15.4M638.92 2.55 v7.7M638.92 574.7 v-7.7M653.3 2.55 v7.7M653.3 574.7 v-7.7M116.6 574.7 h7.7M653.3 574.7 h-7.7M116.6 543.77 h7.7M653.3 543.77 h-7.7M116.6 512.85 h15.4M653.3 512.85 h-15.4M116.6 481.92 h7.7M653.3 481.92 h-7.7M116.6 450.99 h7.7M653.3 450.99 h-7.7M116.6 420.06 h7.7M653.3 420.06 h-7.7M116.6 389.14 h7.7M653.3 389.14 h-7.7M116.6 358.21 h15.4M653.3 358.21 h-15.4M116.6 327.28 h7.7M653.3 327.28 h-7.7M116.6 296.36 h7.7M653.3 296.36 h-7.7M116.6 265.43 h7.7M653.3 265.43 h-7.7M116.6 234.5 h7.7M653.3 234.5 h-7.7M116.6 203.58 h15.4M653.3 203.58 h-15.4M116.6 172.65 h7.7M653.3 172.65 h-7.7M116.6 141.72 h7.7M653.3 141.72 h-7.7M116.6 110.79 h7.7M653.3 110.79 h-7.7M116.6 79.87 h7.7M653.3 79.87 h-7.7M116.6 48.94 h15.4M653.3 48.94 h-15.4M116.6 18.01 h7.7M653.3 18.01 h-7.7"/>
</g>
<rect x="410.5" y="43.1" width="220.8" height="236.7" fill="#fff" stroke="#000" stroke-width="1.2"/>
<path d="M428.1 68.7 H491" stroke="#ffa500" stroke-width="2.91" stroke-dasharray="2.91 8.74 20.4 8.74" fill="none"/>
<path d="M428.1 103.9 H491" stroke="#9400d3" stroke-width="2.35" stroke-dasharray="11.73 7.04 2.35 7.04 11.73 7.04" fill="none"/>
<path d="M428.1 139 H491" stroke="#ff0000" stroke-width="2.35" stroke-dasharray="2.35 7.04 11.73 7.04 2.35 7.04" fill="none"/>
<path d="M428.1 173.9 H491" stroke="#0000ff" stroke-width="2.91" stroke-dasharray="2.91 8.74 14.57 8.74" fill="none"/>
<path d="M428.1 209.1 H491" stroke="#000" stroke-width="2.35" stroke-dasharray="16.42 7.04" fill="none"/>
<path d="M428.1 249.7 H491" stroke="#000" stroke-width="4.1" fill="none"/>
<g font-family="'Liberation Serif', serif" font-size="28.5" fill="#000">
<text x="513.5" y="78" font-style="italic">s=4</text>
<text x="513.5" y="113.4" font-style="italic">s=64</text>
<text x="513.5" y="148.6" font-style="italic">s=512</text>
<text x="513.5" y="183.6" font-style="italic">s=65536</text>
<text x="513.8" y="218.7">LSI</text>
<text x="513.8" y="264.9">L</text>
<text x="531.3" y="248.2" font-size="20.23">2</text>
<text x="542.0" y="264.9">LSI</text>
</g>
<g font-family="'Liberation Sans', sans-serif" fill="#000">
<text transform="translate(109.3 60.39) scale(0.95 1.03)" font-size="31" text-anchor="end">0.4</text>
<text transform="translate(109.3 215.03) scale(0.95 1.03)" font-size="31" text-anchor="end">0.3</text>
<text transform="translate(109.3 369.66) scale(0.95 1.03)" font-size="31" text-anchor="end">0.2</text>
<text transform="translate(109.3 524.3) scale(0.95 1.03)" font-size="31" text-anchor="end">0.1</text>
<text x="97.91" y="618.6" font-size="31.8">10</text>
<text x="134.01" y="599.9" font-size="23">-4</text>
<text x="261.19" y="618.6" font-size="31.8">10</text>
<text x="297.29" y="599.9" font-size="23">-2</text>
<text x="427.97" y="618.6" font-size="31.8">10</text>
<text x="463.67" y="599.9" font-size="23">0</text>
<text x="591.25" y="618.6" font-size="31.8">10</text>
<text x="626.95" y="599.9" font-size="23">2</text>
</g>
<g font-family="'Liberation Serif', serif" font-style="italic" fill="#000">
<text x="389" y="653.1" font-size="38.8" text-anchor="middle">y-1</text>
<text transform="translate(44 503) rotate(-90)" font-size="38.7" text-anchor="middle">f</text>
<text transform="translate(59.8 485.4) rotate(-90)" font-size="27.7" text-anchor="middle">R</text>
<text transform="translate(44 456.35) rotate(-90)" font-size="38.7" text-anchor="middle">(y)</text>
<text transform="translate(44 408.3) rotate(-90)" font-size="38.7" text-anchor="middle">y</text>
<text transform="translate(21.7 337) rotate(-90)" font-size="27.7" text-anchor="middle">1.792197</text>
<text transform="translate(44 224.25) rotate(-90)" font-size="38.7" text-anchor="middle">(1-1/y)</text>
<text transform="translate(21.7 118.7) rotate(-90)" font-size="27.7" text-anchor="middle">0.318928</text>
</g>
</svg>
</body></html>
